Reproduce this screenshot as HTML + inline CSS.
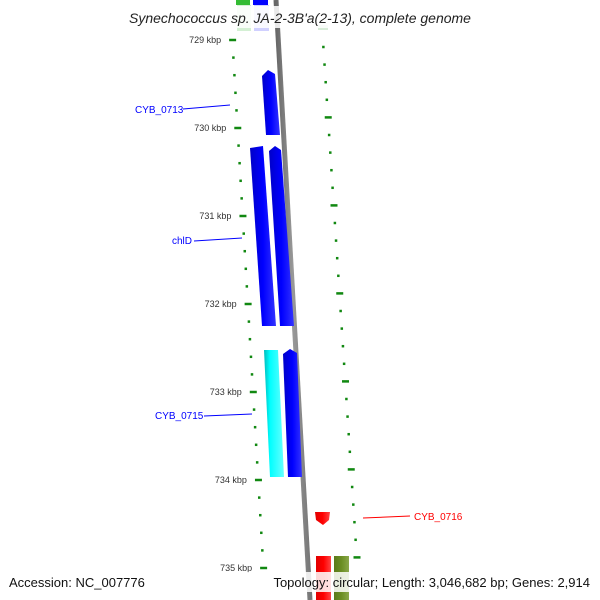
<!DOCTYPE html>
<html><head><meta charset="utf-8"><style>
body{margin:0;background:#fff}
svg{display:block}
text{font-family:"Liberation Sans",sans-serif}
</style></head><body>
<svg id="map" width="600" height="600" viewBox="0 0 600 600">
<defs>
<linearGradient id="gb" x1="0" x2="1"><stop offset="0" stop-color="#0000c8"/><stop offset="0.5" stop-color="#0000ff"/><stop offset="1" stop-color="#3333ff"/></linearGradient>
<linearGradient id="gc" x1="0" x2="1"><stop offset="0" stop-color="#00bcbc"/><stop offset="0.3" stop-color="#00ffff"/><stop offset="1" stop-color="#66ffff"/></linearGradient>
<linearGradient id="gr" x1="0" x2="1"><stop offset="0" stop-color="#e00000"/><stop offset="0.5" stop-color="#ff0000"/><stop offset="1" stop-color="#ff4444"/></linearGradient>
<linearGradient id="go" x1="0" x2="1"><stop offset="0" stop-color="#5a7a1a"/><stop offset="0.5" stop-color="#6b8e23"/><stop offset="1" stop-color="#8aa84a"/></linearGradient>
<linearGradient id="gg" x1="0" x2="1"><stop offset="0" stop-color="#666"/><stop offset="0.5" stop-color="#999"/><stop offset="1" stop-color="#777"/></linearGradient>
</defs>
<g id="ticks"></g>
<line x1="276" y1="0" x2="310" y2="600" stroke="url(#gg)" stroke-width="5"/>
<rect x="236" y="0" width="14" height="5" fill="#33bb33"/>
<rect x="237" y="5" width="14" height="26" fill="#d4f0d4"/>
<rect x="253" y="0" width="15" height="5" fill="#0000ff"/>
<rect x="254" y="5" width="15" height="26" fill="#d0d0ff"/>
<rect x="318" y="25" width="10" height="5" fill="#d8ecd8"/>
<g id="genes">
<polygon points="262,76 268,70 275,74 280,135 266,135" fill="url(#gb)"/>
<polygon points="250,148 263,146 276,326 262,326" fill="url(#gb)"/>
<polygon points="269,151 275,146 281,150 294,326 280,326" fill="url(#gb)"/>
<polygon points="264,350 278,350 284,477 270,477" fill="url(#gc)"/>
<polygon points="283,354 290,349 297,353 302,477 288,477" fill="url(#gb)"/>
<polygon points="315,512 330,512 329,520 323,525 316,520" fill="url(#gr)"/>
<rect x="316" y="556" width="15" height="44" fill="url(#gr)"/>
<rect x="334" y="556" width="15" height="44" fill="url(#go)"/>
</g>
<rect x="110" y="6" width="380" height="22" fill="#fff" opacity="0.85"/>
<text x="300" y="23" text-anchor="middle" font-size="14" font-style="italic" fill="#222">Synechococcus sp. JA-2-3B'a(2-13), complete genome</text>
<g>
<text x="135" y="113" font-size="10" fill="#0000ff">CYB_0713</text>
<line x1="183" y1="109" x2="230" y2="105" stroke="#0000ff"/>
<text x="172" y="244" font-size="10" fill="#0000ff">chlD</text>
<line x1="194" y1="241" x2="242" y2="238" stroke="#0000ff"/>
<text x="155" y="419" font-size="10" fill="#0000ff">CYB_0715</text>
<line x1="204" y1="416" x2="252" y2="414" stroke="#0000ff"/>
<text x="414" y="520" font-size="10" fill="#ff0000">CYB_0716</text>
<line x1="363" y1="518" x2="410" y2="516" stroke="#ff0000"/>
</g>
<g id="kbp"></g>
<rect x="0" y="572" width="600" height="20" fill="#fff" opacity="0.85"/>
<text x="9" y="587" font-size="13" fill="#111">Accession: NC_007776</text>
<text x="590" y="587" font-size="13" fill="#111" text-anchor="end">Topology: circular; Length: 3,046,682 bp; Genes: 2,914</text>
</svg>
<script>
const kbpLabels=[729,730,731,732,733,734,735];
const leftTickKbp=[];for(let i=0;i<=30;i++)leftTickKbp.push(729+i*0.2);
const rightTickIdx=[];for(let i=0;i<=29;i++)rightTickIdx.push(i);
const NS='http://www.w3.org/2000/svg';
function yOf(k){return 40+(k-729)*88;}
function xL(y){return 232+(y-38)*(31/528);}
function xR(y){return 323+(y-45)*(34/520);}
const tg=document.getElementById('ticks'),kg=document.getElementById('kbp');
leftTickKbp.forEach((k,i)=>{const y=yOf(k),x=xL(y),major=i%5===0;
const l=document.createElementNS(NS,'line');
l.setAttribute('x1',x-(major?3:1));l.setAttribute('x2',x+(major?4:1.5));l.setAttribute('y1',y);l.setAttribute('y2',y);
l.setAttribute('stroke','#118811');l.setAttribute('stroke-width','2.5');


tg.appendChild(l);});
rightTickIdx.forEach(i=>{const y=47+i*17.6,x=xR(y),major=(i%5===4);
const l=document.createElementNS(NS,'line');
l.setAttribute('x1',x-(major?3:1));l.setAttribute('x2',x+(major?4:1.5));l.setAttribute('y1',y);l.setAttribute('y2',y);
l.setAttribute('stroke','#118811');l.setAttribute('stroke-width','2.5');


tg.appendChild(l);});
kbpLabels.forEach(k=>{const y=yOf(k),x=xL(y);
const t=document.createElementNS(NS,'text');
t.setAttribute('x',x-11);t.setAttribute('y',y+3);t.setAttribute('text-anchor','end');
t.setAttribute('font-size','9');t.setAttribute('fill','#333');t.textContent=k+' kbp';


kg.appendChild(t);});
</script>
</body></html>
